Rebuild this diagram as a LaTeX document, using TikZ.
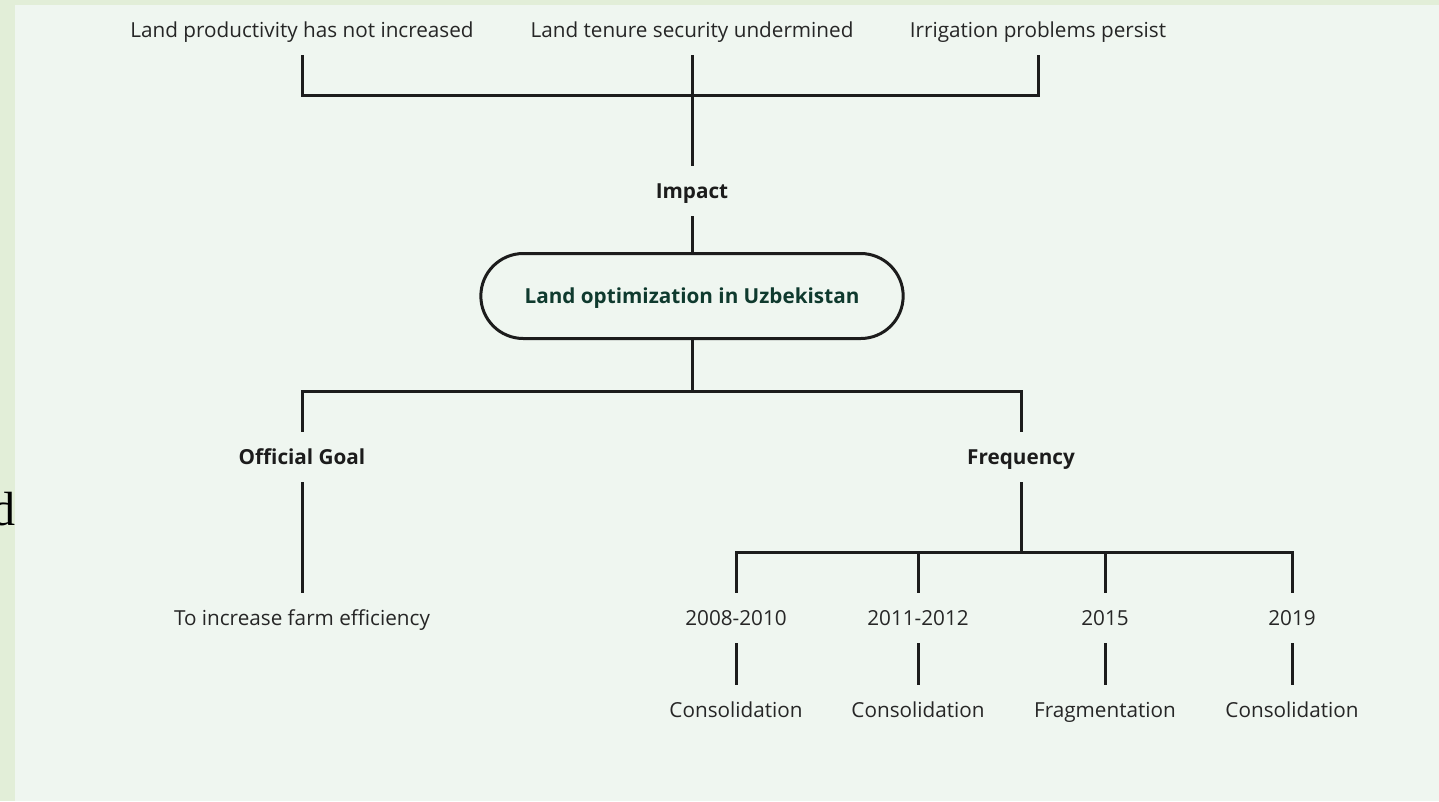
\documentclass[tikz,border=0pt]{standalone}
\usepackage{fontspec}
\newfontfamily\osans{Open Sans}
\newfontfamily\tserif{Liberation Serif}
\usetikzlibrary{shapes.misc}
\definecolor{outerbg}{HTML}{E2EED8}
\definecolor{panelbg}{HTML}{EFF6F0}
\definecolor{ink}{HTML}{1C1C1C}
\definecolor{txt}{HTML}{262626}
\definecolor{hubtxt}{HTML}{0F3A2E}
\tikzset{
  lbl/.style={font=\osans\fontsize{20.7}{23}\selectfont, text=txt, minimum height=50pt, text height=19pt, text depth=5pt, inner ysep=0pt, inner xsep=2pt},
  head/.style={lbl, font=\osans\fontsize{20.7}{23}\selectfont\bfseries, text=ink},
  hubbox/.style={rounded rectangle, draw=ink, line width=3pt, fill=panelbg, minimum width=429pt, minimum height=85pt, text height=19pt, text depth=5pt, font=\osans\fontsize{20.7}{23}\selectfont\bfseries, text=hubtxt},
  conn/.style={draw=ink, line width=3pt}
}
\begin{document}
\begin{tikzpicture}[x=1pt,y=-1pt]
\useasboundingbox (0,0) rectangle (1439,801);
\fill[outerbg] (0,0) rectangle (1439,801);
\node[font=\tserif\fontsize{48}{50}\selectfont, text=black, anchor=base east, inner sep=0pt] (dchar) at (16,525) {d};
\fill[panelbg] (15,5) rectangle (1439,801);

% top labels
\node[lbl] (t1) at (302,30) {Land productivity has not increased};
\node[lbl] (t2) at (692,30) {Land tenure security undermined};
\node[lbl] (t3) at (1038,30) {Irrigation problems persist};
\node[head] (impact) at (692,191) {Impact};
\node[hubbox] (hub) at (692,296) {Land optimization in Uzbekistan};
\node[head] (og) at (302,457) {Official Goal};
\node[head] (freq) at (1021,457) {Frequency};
\node[lbl] (goal) at (302,618) {To increase farm efficiency};
\node[lbl] (y1) at (736,618) {2008-2010};
\node[lbl] (y2) at (918,618) {2011-2012};
\node[lbl] (y3) at (1105,618) {2015};
\node[lbl] (y4) at (1292,618) {2019};
\node[lbl] (c1) at (736,710) {Consolidation};
\node[lbl] (c2) at (918,710) {Consolidation};
\node[lbl] (c3) at (1105,710) {Fragmentation};
\node[lbl] (c4) at (1292,710) {Consolidation};

% connectors
\draw[conn] (t1.south) -- ++(0,40) -| (t3.south);
\draw[conn] (t2.south) -- (impact.north);
\draw[conn] (impact.south) -- (hub.north);
\draw[conn] (hub.south) -- ++(0,51) coordinate (b1);
\draw[conn] (og.north) |- (b1) -| (freq.north);
\draw[conn] (og.south) -- (goal.north);
\draw[conn] (freq.south) -- ++(0,70) coordinate (b2);
\draw[conn] (y1.north) |- (b2) -| (y4.north);
\draw[conn] (y2.north) -- (y2.north |- b2);
\draw[conn] (y3.north) -- (y3.north |- b2);
\draw[conn] (y1.south) -- (c1.north);
\draw[conn] (y2.south) -- (c2.north);
\draw[conn] (y3.south) -- (c3.north);
\draw[conn] (y4.south) -- (c4.north);
\end{tikzpicture}
\end{document}
